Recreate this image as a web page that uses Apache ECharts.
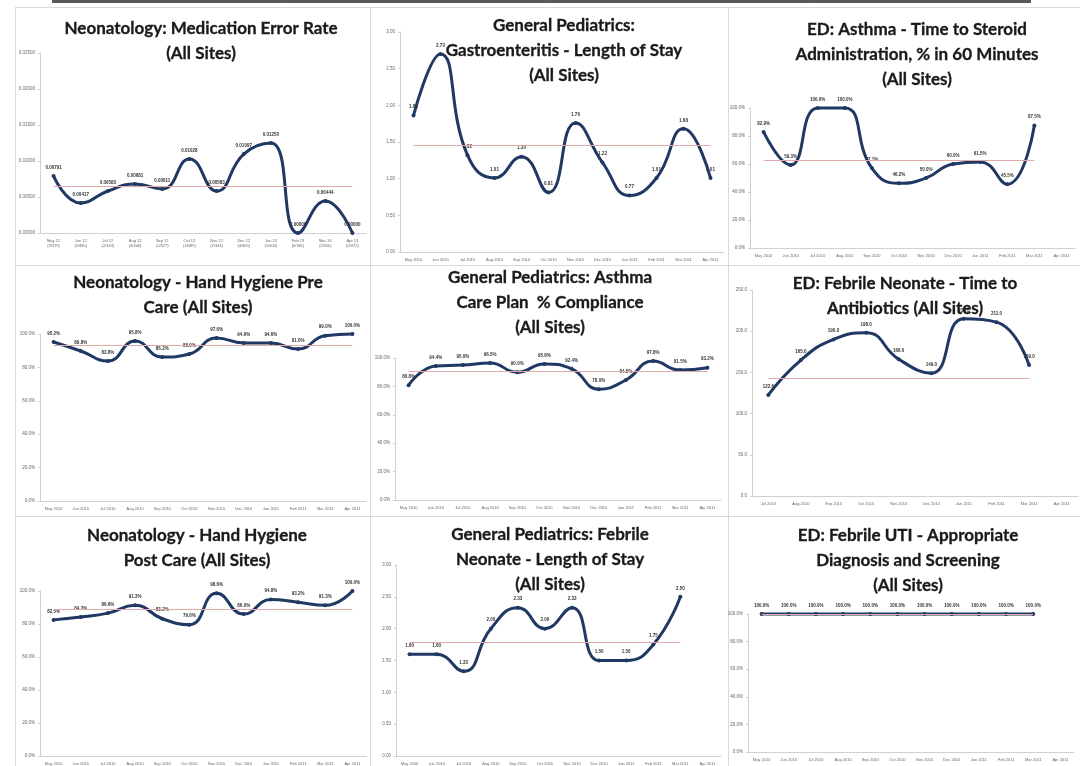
<!DOCTYPE html>
<html>
<head>
<meta charset="utf-8">
<title>Quality dashboard</title>
<script src="https://cdn.jsdelivr.net/npm/echarts@6/dist/echarts.min.js"></script>
<style>
  html, body { margin: 0; padding: 0; background: #fff; }
  #dashboard { width: 1080px; height: 766px; }
</style>
</head>
<body>
<div id="dashboard"></div>
<script>
  // ---- data ----
  let medErrMonths = ['May 12\n(3/379)', 'Jun 12\n(2/480)', 'Jul 12\n(2/343)', 'Aug 12\n(3/440)', 'Sep 12\n(2/327)', 'Oct 12\n(4/389)',
    'Nov 12\n(2/343)', 'Dec 12\n(4/365)', 'Jan 13\n(5/400)', 'Feb 13\n(0/361)', 'Mar 13\n(2/450)', 'Apr 13\n(0/372)']
  let medErrValues = [0.00791, 0.00417, 0.00583, 0.00681, 0.00611, 0.01028, 0.00583, 0.01097, 0.01250, 0, 0.00444, 0]
  let medErrAverage = 0.00653

  let gastroMonths = ['May 2010', 'Jun 2010', 'Jul 2010', 'Aug 2010', 'Sep 2010', 'Oct 2010', 'Nov 2010', 'Dec 2010', 'Jan 2011', 'Feb 2011', 'Mar 2011', 'Apr 2011']
  let gastroValues = [1.86, 2.70, 1.32, 1.01, 1.30, 0.81, 1.76, 1.22, 0.77, 1.01, 1.68, 1.01]
  let gastroAverage = 1.46

  let steroidMonths = ['May 2010', 'Jun 2010', 'Jul 2010', 'Aug 2010', 'Sep 2010', 'Oct 2010', 'Nov 2010', 'Dec 2010', 'Jan 2011', 'Feb 2011', 'Mar 2011', 'Apr 2011']
  let steroidValues = [82.9, 59.3, 100, 100, 57.1, 46.2, 50.0, 60.0, 61.5, 45.5, 87.5]
  let steroidAverage = 63.0

  let hhPreMonths = ['May 2010', 'Jun 2010', 'Jul 2010', 'Aug 2010', 'Sep 2010', 'Oct 2010', 'Nov 2010', 'Dec 2010', 'Jan 2011', 'Feb 2011', 'Mar 2011', 'Apr 2011']
  let hhPreValues = [95.2, 89.8, 83.8, 95.8, 86.2, 88.0, 97.6, 94.6, 94.6, 91.0, 99.0, 100]
  let hhPreAverage = 93.2

  let asthmaPlanMonths = ['May 2010', 'Jun 2010', 'Jul 2010', 'Aug 2010', 'Sep 2010', 'Oct 2010', 'Nov 2010', 'Dec 2010', 'Jan 2011', 'Feb 2011', 'Mar 2011', 'Apr 2011']
  let asthmaPlanValues = [80.8, 94.4, 95.0, 96.5, 90.0, 95.8, 92.4, 78.0, 84.5, 97.8, 91.5, 93.2]
  let asthmaPlanAverage = 90.8

  let antibioticMonths = ['Jul 2010', 'Aug 2010', 'Sep 2010', 'Oct 2010', 'Nov 2010', 'Dec 2010', 'Jan 2011', 'Feb 2011', 'Mar 2011', 'Apr 2011']
  let antibioticValues = [122.6, 165.0, 190.0, 198.0, 166.0, 149.0, 215.0, 211.0, 159.0]
  let antibioticAverage = 143.0

  let hhPostMonths = ['May 2010', 'Jun 2010', 'Jul 2010', 'Aug 2010', 'Sep 2010', 'Oct 2010', 'Nov 2010', 'Dec 2010', 'Jan 2011', 'Feb 2011', 'Mar 2011', 'Apr 2011']
  let hhPostValues = [82.5, 84.2, 86.6, 91.3, 83.2, 79.6, 98.6, 86.0, 94.8, 93.2, 91.3, 100]
  let hhPostAverage = 89.2

  let neonateLosMonths = ['May 2010', 'Jun 2010', 'Jul 2010', 'Aug 2010', 'Sep 2010', 'Oct 2010', 'Nov 2010', 'Dec 2010', 'Jan 2011', 'Feb 2011', 'Mar 2011', 'Apr 2011']
  let neonateLosValues = [1.60, 1.60, 1.33, 2.00, 2.33, 2.00, 2.33, 1.50, 1.50, 1.75, 2.50]
  let neonateLosAverage = 1.79

  let utiMonths = ['May 2010', 'Jun 2010', 'Jul 2010', 'Aug 2010', 'Sep 2010', 'Oct 2010', 'Nov 2010', 'Dec 2010', 'Jan 2011', 'Feb 2011', 'Mar 2011', 'Apr 2011']
  let utiValues = [100, 100, 100, 100, 100, 100, 100, 100, 100, 100, 100]
  let utiAverage = 100

  // formatters
  let rate = v => v.toFixed(5)
  let days = v => v.toFixed(2)
  let pct = v => v.toFixed(1) + '%'
  let mins = v => v.toFixed(1)

  // ---- layout of the 3x3 board ----
  let panels = [
    { title: 'Neonatology: Medication Error Rate\n(All Sites)', tx: 201, ty: 16,
      grid: { left: 40, top: 53, width: 326, height: 180 },
      months: medErrMonths, values: medErrValues, avg: medErrAverage, max: 0.025, step: 0.005, fmt: rate },
    { title: 'General Pediatrics:\nGastroenteritis - Length of Stay\n(All Sites)', tx: 564, ty: 13,
      grid: { left: 400, top: 32, width: 324, height: 220 },
      months: gastroMonths, values: gastroValues, avg: gastroAverage, max: 3, step: 0.5, fmt: days },
    { title: 'ED: Asthma - Time to Steroid\nAdministration, % in 60 Minutes\n(All Sites)', tx: 917, ty: 17,
      grid: { left: 750, top: 108, width: 325, height: 140 },
      months: steroidMonths, values: steroidValues, avg: steroidAverage, max: 100, step: 20, fmt: pct },
    { title: 'Neonatology - Hand Hygiene Pre\nCare (All Sites)', tx: 198, ty: 270,
      grid: { left: 40, top: 334, width: 326, height: 167 },
      months: hhPreMonths, values: hhPreValues, avg: hhPreAverage, max: 100, step: 20, fmt: pct },
    { title: 'General Pediatrics: Asthma\nCare Plan  % Compliance\n(All Sites)', tx: 550, ty: 265,
      grid: { left: 395, top: 358, width: 326, height: 142 },
      months: asthmaPlanMonths, values: asthmaPlanValues, avg: asthmaPlanAverage, max: 100, step: 20, fmt: pct },
    { title: 'ED: Febrile Neonate - Time to\nAntibiotics (All Sites)', tx: 905, ty: 271,
      grid: { left: 752, top: 290, width: 326, height: 206 },
      months: antibioticMonths, values: antibioticValues, avg: antibioticAverage, max: 250, step: 50, fmt: mins },
    { title: 'Neonatology - Hand Hygiene\nPost Care (All Sites)', tx: 197, ty: 523,
      grid: { left: 40, top: 591, width: 326, height: 166 },
      months: hhPostMonths, values: hhPostValues, avg: hhPostAverage, max: 100, step: 20, fmt: pct },
    { title: 'General Pediatrics: Febrile\nNeonate - Length of Stay\n(All Sites)', tx: 550, ty: 522,
      grid: { left: 396, top: 565, width: 325, height: 196 },
      months: neonateLosMonths, values: neonateLosValues, avg: neonateLosAverage, max: 3, step: 0.5, fmt: days },
    { title: 'ED: Febrile UTI - Appropriate\nDiagnosis and Screening\n(All Sites)', tx: 908, ty: 523,
      grid: { left: 748, top: 614, width: 326, height: 138 },
      months: utiMonths, values: utiValues, avg: utiAverage, max: 100, step: 20, fmt: pct }
  ]

  let navy = '#1f3864'
  let axisGrey = '#d0d0d0'

  let chart = echarts.init(document.getElementById('dashboard'))

  let titles = []
  let grids = []
  let xAxes = []
  let yAxes = []
  let series = []

  panels.forEach(function (p, i) {
    titles.push({
      text: p.title,
      left: p.tx,
      top: p.ty,
      textAlign: 'center',
      padding: 0,
      textStyle: {
        fontFamily: 'Lato',
        fontWeight: 'bold',
        fontSize: 17,
        lineHeight: 25,
        color: '#1a1a1a',
        textBorderColor: '#1a1a1a',
        textBorderWidth: 0.3
      }
    })
    grids.push(Object.assign({ containLabel: false }, p.grid))
    xAxes.push({
      type: 'category',
      gridIndex: i,
      data: p.months,
      boundaryGap: true,
      axisLine: { lineStyle: { color: axisGrey } },
      axisTick: { show: false },
      axisLabel: { interval: 0, fontSize: 4, lineHeight: 5, color: '#666', margin: 5 }
    })
    yAxes.push({
      type: 'value',
      gridIndex: i,
      min: 0,
      max: p.max,
      interval: p.step,
      splitLine: { show: false },
      axisLine: { show: true, lineStyle: { color: axisGrey } },
      axisTick: { show: true, length: 2, lineStyle: { color: axisGrey } },
      axisLabel: { fontSize: 4.5, color: '#666', margin: 5, formatter: p.fmt }
    })
    series.push({
      type: 'line',
      xAxisIndex: i,
      yAxisIndex: i,
      data: p.values,
      smooth: true,
      clip: false,
      symbol: 'circle',
      symbolSize: 4,
      itemStyle: { color: navy },
      lineStyle: { color: navy, width: 3 },
      label: {
        show: true,
        position: 'top',
        distance: 4,
        fontSize: 4.5,
        fontWeight: 'bold',
        color: '#333',
        formatter: function (d) { return p.fmt(d.value) }
      },
      markLine: {
        silent: true,
        symbol: 'none',
        label: { show: false },
        lineStyle: { color: '#e3a9a9', width: 1, type: 'solid' },
        data: [[{ coord: [0, p.avg] }, { coord: [p.values.length - 1, p.avg] }]]
      },
      z: 3
    })
  })

  let frame = { stroke: '#d9d9d9', lineWidth: 1 }
  let option = {
    backgroundColor: '#fff',
    animation: false,
    title: titles,
    grid: grids,
    xAxis: xAxes,
    yAxis: yAxes,
    series: series,
    graphic: [
      { type: 'rect', shape: { x: 52, y: 0, width: 979, height: 3 }, style: { fill: '#5a5a5a' } },
      { type: 'line', shape: { x1: 15, y1: 7.5, x2: 1080, y2: 7.5 }, style: frame },
      { type: 'line', shape: { x1: 15, y1: 265.5, x2: 1080, y2: 265.5 }, style: frame },
      { type: 'line', shape: { x1: 15, y1: 516.5, x2: 1080, y2: 516.5 }, style: frame },
      { type: 'line', shape: { x1: 15.5, y1: 7, x2: 15.5, y2: 766 }, style: frame },
      { type: 'line', shape: { x1: 370.5, y1: 7, x2: 370.5, y2: 766 }, style: frame },
      { type: 'line', shape: { x1: 728.5, y1: 7, x2: 728.5, y2: 766 }, style: frame }
    ]
  }
  chart.setOption(option)
</script>
</body>
</html>
